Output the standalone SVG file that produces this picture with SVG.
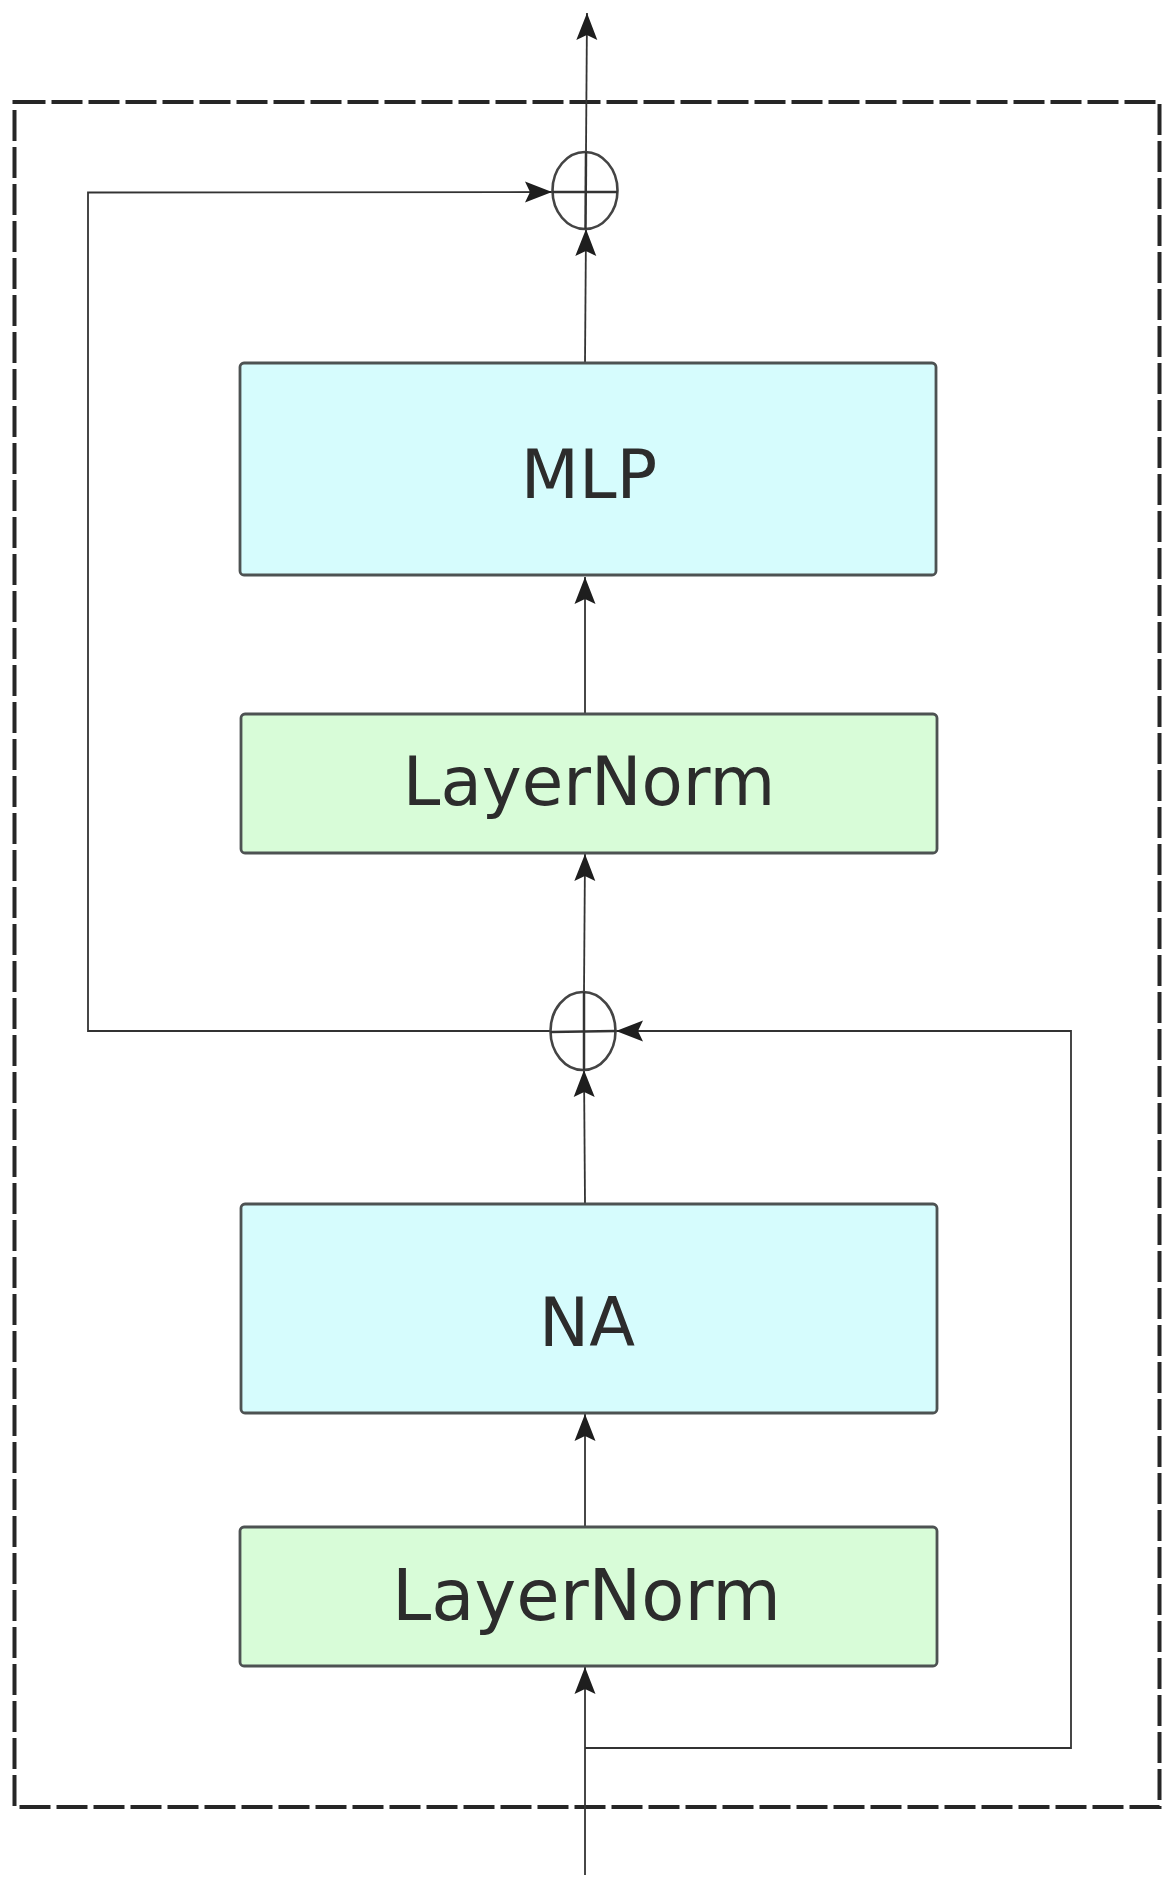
<svg xmlns="http://www.w3.org/2000/svg" width="1176" height="1890" viewBox="0 0 1176 1890">
  <defs>
    <style>
      .frame { fill: none; stroke: #262626; stroke-width: 4; stroke-dasharray: 31 6; }
      .box { stroke: #4d5252; stroke-width: 2.8; }
      .cyan { fill: #d6fcfd; }
      .green { fill: #d8fcd8; }
      .label { font-family: "DejaVu Sans", Verdana, sans-serif; fill: #2c2c2c; text-anchor: middle; }
      .sum { fill: none; stroke: #444; stroke-width: 2.6; }
      .plus { stroke: #333; stroke-width: 2.5; }
      .conn { fill: none; stroke: #333; stroke-width: 1.8; }
    </style>
    <marker id="arrow" markerUnits="userSpaceOnUse" markerWidth="30" markerHeight="24" viewBox="-28 -12 30 24" refX="0" refY="0" orient="auto">
      <path d="M0,0 L-27,-10.5 L-22,0 L-27,10.5 Z" fill="#1e1e1e"/>
    </marker>
  </defs>

  <rect width="1176" height="1890" fill="#ffffff"/>

  <rect id="frame" class="frame" x="14.5" y="102" width="1145" height="1705"/>

  <g id="connectors">
    <path class="conn" d="M585,1875 L585,1667" marker-end="url(#arrow)"/>
    <path class="conn" d="M585,1527 L585,1414" marker-end="url(#arrow)"/>
    <path class="conn" d="M585,1204 L584,1070" marker-end="url(#arrow)"/>
    <path class="conn" d="M584,992 L585,854" marker-end="url(#arrow)"/>
    <path class="conn" d="M585,714 L585,577" marker-end="url(#arrow)"/>
    <path class="conn" d="M585,363 L586,229" marker-end="url(#arrow)"/>
    <path class="conn" d="M586,152 L587,13" marker-end="url(#arrow)"/>
    <path class="conn" d="M551,1031 L88,1031 L88,192.5 L552,192" marker-end="url(#arrow)"/>
    <path class="conn" d="M585,1748 L1071,1748 L1071,1031 L616,1031" marker-end="url(#arrow)"/>
  </g>

  <g id="sum-top">
    <ellipse class="sum" cx="585" cy="190.5" rx="32.5" ry="38.5"/>
    <line class="plus" x1="552.5" y1="192" x2="617.5" y2="192"/>
    <line class="plus" x1="586" y1="152" x2="585.5" y2="229"/>
  </g>

  <g id="sum-bottom">
    <ellipse class="sum" cx="583" cy="1031" rx="32.5" ry="39"/>
    <line class="plus" x1="550.5" y1="1032" x2="615.5" y2="1031"/>
    <line class="plus" x1="584" y1="992" x2="584" y2="1070"/>
  </g>

  <g id="mlp">
    <rect class="box cyan" x="240" y="363" width="696" height="212" rx="4"/>
    <text class="label" x="589" y="498" font-size="67.5">MLP</text>
  </g>

  <g id="layernorm-upper">
    <rect class="box green" x="241" y="714" width="696" height="139" rx="4"/>
    <text class="label" x="589" y="805" font-size="67.5">LayerNorm</text>
  </g>

  <g id="na">
    <rect class="box cyan" x="241" y="1204" width="696" height="209" rx="4"/>
    <text class="label" x="587" y="1346" font-size="67">NA</text>
  </g>

  <g id="layernorm-lower">
    <rect class="box green" x="240" y="1527" width="697" height="139" rx="4"/>
    <text class="label" x="586.5" y="1620" font-size="70.5">LayerNorm</text>
  </g>
</svg>
